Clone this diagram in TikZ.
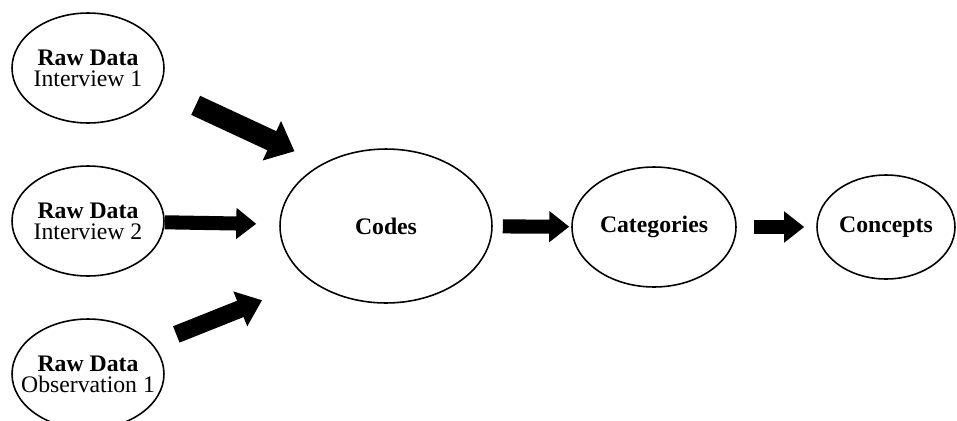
\documentclass[tikz,border=0pt]{standalone}
\usepackage{fontspec}
\setmainfont{Liberation Serif}
\usetikzlibrary{arrows.meta, shapes.geometric}

\begin{document}
\begin{tikzpicture}[x=0.02cm, y=-0.02cm,
    every node/.style={font=\fontsize{13.5}{12}\selectfont},
    stage/.style={draw, ellipse, line width=0.9pt, align=center, inner sep=-0.6cm},
    flow/.style={line width=8pt, -{Triangle[length=0.4cm, width=0.6cm]}}]
  % page frame in pixel units (y grows downwards)
  \clip (0,0) rectangle (957,420);
  \def\rw{3.04cm} \def\rh{2.2cm}

  % Raw data sources
  \node[stage, minimum width=\rw, minimum height=\rh] (iv1) at (88,68)
    {\textbf{Raw Data}\\Interview 1};
  \node[stage, minimum width=\rw, minimum height=\rh] (iv2) at (88,221)
    {\textbf{Raw Data}\\Interview 2};
  \node[stage, minimum width=\rw, minimum height=\rh] (obs1) at (88,374)
    {\textbf{Raw Data}\\Observation 1};

  % Coding stages
  \node[stage, minimum width=4.24cm, minimum height=3.08cm] (codes) at (386,226) {\textbf{Codes}};
  \node[stage, minimum width=3.28cm, minimum height=2.4cm] (cat) at (654,227) {\textbf{Categories}};
  \node[stage, minimum width=2.76cm, minimum height=2.08cm] (conc) at (886,227) {\textbf{Concepts}};

  % Sources feeding the codes
  \draw[flow, line width=12pt, -{Triangle[length=0.5cm, width=0.84cm]},
        shorten <=0.8cm, shorten >=0.6cm] (iv1.-16) -- (codes.136);
  \draw[flow, shorten >=0.46cm] (iv2) -- (codes);
  \draw[flow, line width=10pt, -{Triangle[length=0.47cm, width=0.72cm]},
        shorten <=0.51cm, shorten >=1.04cm] (obs1.25) -- (codes.216);

  % Codes -> categories -> concepts
  \draw[flow, shorten <=0.2cm, shorten >=0.04cm] (codes) -- (cat);
  \draw[flow, shorten <=0.34cm, shorten >=0.24cm] (cat) -- (conc);
\end{tikzpicture}
\end{document}
